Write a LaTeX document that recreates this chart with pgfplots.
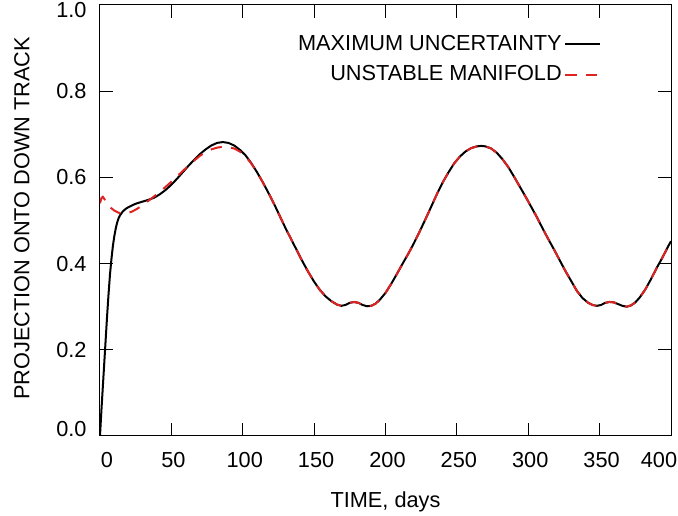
\documentclass[border=0pt]{standalone}
\usepackage{fontspec}
\setmainfont{Liberation Sans}
\usepackage{pgfplots}
\pgfplotsset{compat=1.18}
\definecolor{myred}{RGB}{222,35,35}
\pgfplotstableread{
x y
0 0
1 0.06
2 0.115
3 0.17
4 0.225
5 0.28
6 0.33
7 0.375
8 0.41
9 0.44
10 0.463
11 0.481
12 0.495
13 0.505
14 0.512
16 0.521
18 0.527
20 0.531
23 0.536
26 0.540
30 0.544
34 0.548
38 0.553
42 0.561
46 0.571
50 0.583
54 0.597
58 0.612
62 0.627
66 0.641
70 0.654
74 0.665
78 0.674
82 0.680
86 0.682
90 0.680
94 0.674
98 0.664
102 0.651
106 0.633
110 0.612
114 0.589
118 0.564
122 0.538
126 0.510
130 0.482
134 0.456
138 0.430
142 0.404
146 0.380
150 0.358
154 0.339
158 0.324
162 0.313
166 0.305
169 0.302
172 0.304
175 0.309
178 0.311
181 0.309
184 0.304
187 0.301
190 0.302
193 0.307
196 0.316
200 0.332
204 0.353
208 0.376
212 0.400
216 0.423
220 0.448
224 0.475
228 0.503
232 0.532
236 0.561
240 0.588
244 0.611
248 0.632
252 0.648
256 0.660
260 0.668
264 0.672
267 0.673
270 0.672
274 0.667
278 0.657
282 0.642
286 0.624
290 0.602
294 0.579
298 0.556
302 0.532
306 0.508
310 0.482
314 0.457
318 0.433
322 0.408
326 0.383
330 0.360
334 0.337
338 0.320
342 0.309
345 0.304
348 0.302
351 0.304
354 0.309
357 0.311
360 0.310
363 0.306
366 0.302
369 0.300
372 0.303
375 0.310
378 0.321
382 0.340
386 0.364
390 0.390
394 0.414
398 0.440
400 0.452
}\maxunc
\pgfplotstableread{
x y
0 0.540
1 0.552
2 0.555
3 0.550
5 0.540
7 0.531
10 0.523
13 0.518
16 0.516
19 0.517
22 0.520
26 0.527
30 0.536
34 0.546
38 0.556
42 0.567
46 0.578
50 0.590
54 0.602
58 0.615
62 0.627
66 0.639
70 0.650
74 0.659
78 0.665
82 0.669
86 0.671
90 0.670
94 0.667
98 0.660
102 0.649
106 0.632
110 0.612
114 0.589
118 0.564
122 0.538
126 0.510
130 0.482
134 0.456
138 0.430
142 0.404
146 0.380
150 0.358
154 0.339
158 0.324
162 0.313
166 0.305
169 0.302
172 0.304
175 0.309
178 0.311
181 0.309
184 0.304
187 0.301
190 0.302
193 0.307
196 0.316
200 0.332
204 0.353
208 0.376
212 0.400
216 0.423
220 0.448
224 0.475
228 0.503
232 0.532
236 0.561
240 0.588
244 0.611
248 0.632
252 0.648
256 0.660
260 0.668
264 0.672
267 0.673
270 0.672
274 0.667
278 0.657
282 0.642
286 0.624
290 0.602
294 0.579
298 0.556
302 0.532
306 0.508
310 0.482
314 0.457
318 0.433
322 0.408
326 0.383
330 0.360
334 0.337
338 0.320
342 0.309
345 0.304
348 0.302
351 0.304
354 0.309
357 0.311
360 0.310
363 0.306
366 0.302
369 0.300
372 0.303
375 0.310
378 0.321
382 0.340
386 0.364
390 0.390
394 0.414
398 0.440
400 0.452
}\unstab
\begin{document}
\fontsize{16.3}{19}\selectfont
\begin{tikzpicture}
\begin{axis}[
 scale only axis, width=428.25pt, height=323.25pt,
 xmin=0, xmax=400, ymin=0, ymax=1,
 xtick={0,50,100,150,200,250,300,350,400},
 xticklabels={\hspace*{7.5pt}0,50,100,150,200,250,300,350,400\hspace*{21pt}},
 ytick={0,0.2,0.4,0.6,0.8,1.0},
 yticklabels={\raisebox{4.9pt}[\height][\depth]{0.0},0.2,0.4,0.6,0.8,\raisebox{-3.9pt}[\height][\depth]{1.0}},
 tick align=inside, major tick length=9.75pt,
 tick style={black, line width=0.75pt},
 axis line style={line width=0.75pt},
 /pgf/number format/assume math mode=true,
 y tick label style={xshift=-4.5pt},
 x tick label style={yshift=-6.5pt, xshift=1.5pt},
 font=\fontsize{16.3}{19}\selectfont,
 xlabel={TIME, days},
 ylabel={PROJECTION ONTO DOWN TRACK},
 every axis x label/.style={at={(axis description cs:0.5,-0.153)}, anchor=center},
 every axis y label/.style={at={(axis description cs:-0.137,0.505)}, anchor=center, rotate=90},
 legend style={draw=none, fill=none, at={(0.878,0.937)}, anchor=north east,
   font=\fontsize{16.3}{19}\selectfont, row sep=5pt, inner sep=0pt},
 legend plot pos=right, legend cell align=right,
 legend image code/.code={\draw[#1] (5pt,0pt) -- (31pt,0pt);},
]
\addplot[black, line width=1.5pt, line join=round] table[x=x,y=y] {\maxunc};
\addlegendentry{MAXIMUM UNCERTAINTY}
\addplot[myred, line width=1.5pt, dash pattern=on 8.5pt off 7pt] table[x=x,y=y] {\unstab};
\addlegendentry{UNSTABLE MANIFOLD}
\end{axis}
\pgfresetboundingbox
\path[use as bounding box] (-75pt,-60pt) rectangle (433.5pt,327pt);
\end{tikzpicture}
\end{document}
